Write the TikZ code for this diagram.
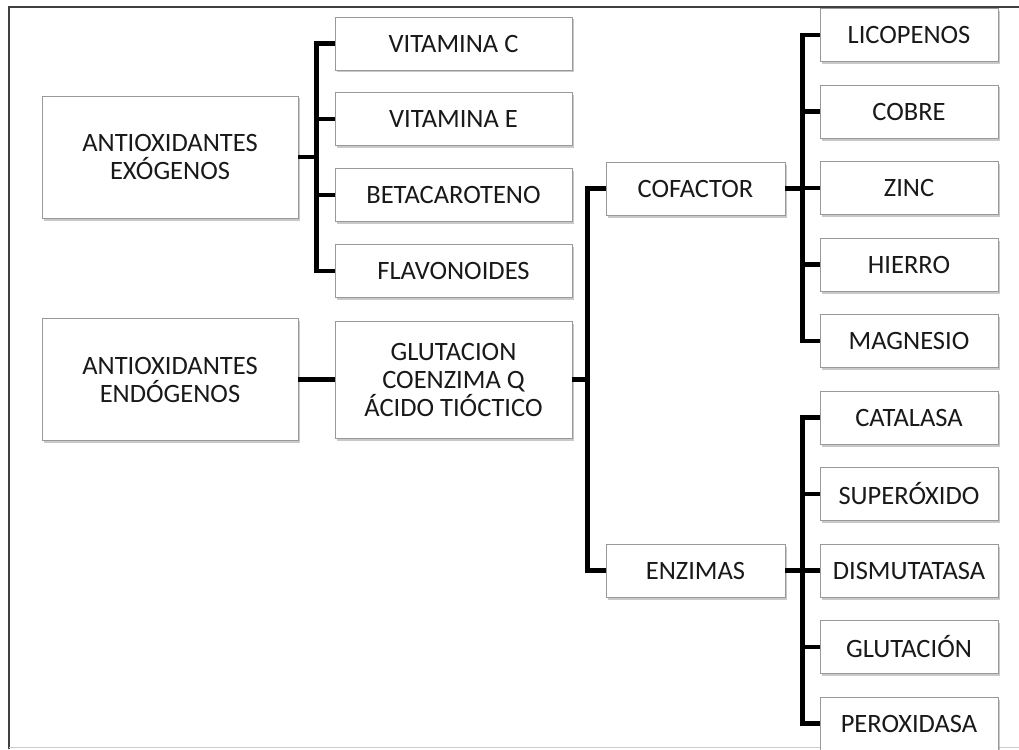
\documentclass[tikz,border=0pt]{standalone}
\usepackage{fontspec}
\setmainfont{Carlito}
\usetikzlibrary{shadows}
\tikzset{
  item box/.style={draw=black!40,fill=white,line width=0.8pt,inner sep=0pt,align=center,
    minimum width=237pt,minimum height=53pt,text=black!90,
    font=\fontsize{26.5}{28}\selectfont,
    drop shadow={shadow xshift=2pt,shadow yshift=-2.5pt,opacity=0.3,fill=black!70}},
  group box/.style={item box,minimum width=256pt,minimum height=122pt},
  mid box/.style={item box,minimum width=179pt},
  leaf box/.style={item box,minimum width=178pt},
  branch/.style={line width=4.2pt,black},
  frame line/.style={line width=1.4pt,black!75},
}
\begin{document}
\begin{tikzpicture}[x=1pt,y=-1pt]
  \useasboundingbox (0,0) rectangle (1019,749);
  % outer frame
  \draw[frame line] (9,749) |- (1019,7);
  \draw[black!20,line width=1pt] (9,747) -- (1019,747);
  % first level
  \node[group box] (exo) at (170,157) {ANTIOXIDANTES\\EXÓGENOS};
  \node[group box] (endo) at (170,379.5) {ANTIOXIDANTES\\ENDÓGENOS};
  % second level
  \foreach \name/\txt [count=\i from 0] in {vitc/VITAMINA C,vite/VITAMINA E,beta/BETACAROTENO,flav/FLAVONOIDES}
    \node[item box] (\name) at (453.5,43.5+75.8*\i) {\txt};
  \node[item box,minimum height=117pt] (glut) at (453.5,379.5) {GLUTACION\\COENZIMA Q\\ÁCIDO TIÓCTICO};
  % third level
  \node[mid box] (cof) at (695.5,188.5) {COFACTOR};
  \node[mid box] (enz) at (695.5,570.5) {ENZIMAS};
  % leaves
  \foreach \name/\txt [count=\i from 0] in {lic/LICOPENOS,cob/COBRE,zin/ZINC,hie/HIERRO,mag/MAGNESIO,
      cat/CATALASA,sup/SUPERÓXIDO,dis/DISMUTATASA,glu/GLUTACIÓN,per/PEROXIDASA}
    \node[leaf box] (\name) at (909,35+76.5*\i) {\txt};
  % connectors
  \foreach \name in {vitc,vite,beta,flav}
    \draw[branch] (exo.east) -- ++(18,0) |- (\name.west);
  \draw[branch] (endo) -- (glut);
  \foreach \name in {cof,enz}
    \draw[branch] (glut.east) -- ++(15,0) |- (\name.west);
  \foreach \name in {lic,cob,zin,hie,mag}
    \draw[branch] (cof.east) -- ++(17,0) |- (\name.west);
  \foreach \name in {cat,sup,dis,glu,per}
    \draw[branch] (enz.east) -- ++(17,0) |- (\name.west);
\end{tikzpicture}
\end{document}
